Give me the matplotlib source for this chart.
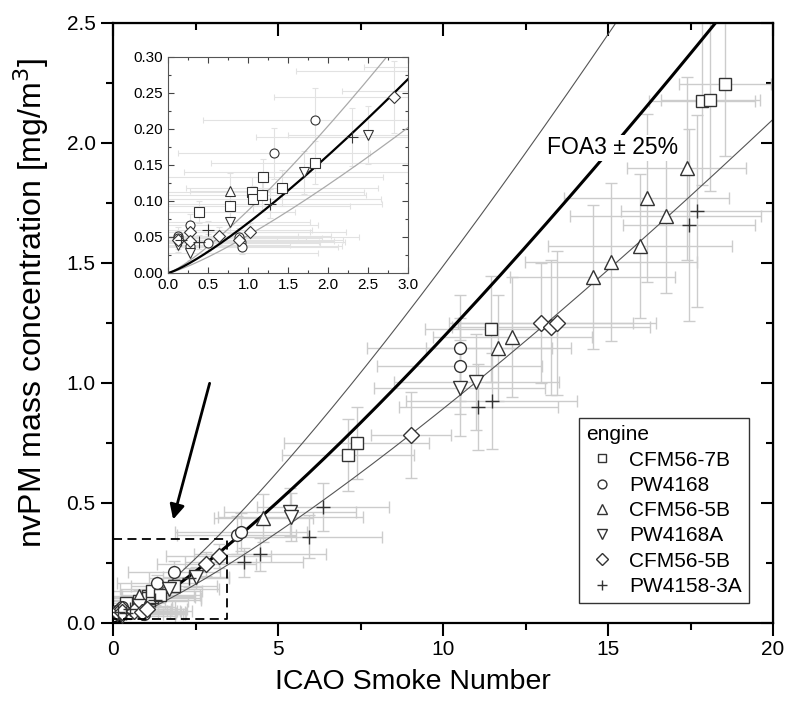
import numpy as np
import matplotlib.pyplot as plt

plt.rcParams['font.family'] = ['Liberation Sans', 'DejaVu Sans']

# FOA3 correlation: C = a * SN^b  (mg/m3)
foa3_a = 0.0694
foa3_b = 1.234

engines = ['CFM56-7B', 'PW4168', 'CFM56-5B', 'PW4168A', 'CFM56-5B', 'PW4158-3A']
markers = ['s', 'o', '^', 'v', 'D', '+']
main_ms = [8.5, 8.5, 9.5, 9.5, 8.5, 10]
inset_ms = [7, 6.5, 7.5, 7.5, 6.5, 8]

sq_x = [0.39, 0.78, 1.05, 1.06, 1.18, 1.19, 1.43, 1.84, 7.12, 7.39, 11.45, 17.84, 18.10, 18.55]
sq_y = [0.085, 0.093, 0.113, 0.103, 0.108, 0.133, 0.118, 0.153, 0.700, 0.750, 1.225, 2.176, 2.180, 2.245]
sq_xe = [1.2, 1.5, 1.4, 1.6, 1.3, 1.5, 1.2, 1.3, 2.0, 2.2, 2.0, 1.6, 1.5, 1.4]
sq_ye = [0.015, 0.02, 0.02, 0.018, 0.02, 0.025, 0.025, 0.03, 0.15, 0.15, 0.22, 0.35, 0.38, 0.3]

ci_x = [0.13, 0.13, 0.27, 0.27, 0.50, 0.89, 0.91, 0.93, 1.32, 1.84, 3.75, 3.87, 10.5, 10.5]
ci_y = [0.052, 0.049, 0.067, 0.038, 0.042, 0.050, 0.043, 0.036, 0.166, 0.212, 0.367, 0.380, 1.070, 1.145]
ci_xe = [1.5, 1.8, 1.6, 1.9, 1.4, 1.5, 1.3, 1.2, 1.2, 1.4, 1.8, 2.0, 2.5, 2.8]
ci_ye = [0.012, 0.01, 0.015, 0.01, 0.012, 0.012, 0.01, 0.01, 0.035, 0.045, 0.08, 0.08, 0.2, 0.22]

tu_x = [0.78, 4.56, 11.68, 12.10, 14.54, 15.09, 15.97, 16.17, 16.75, 17.38]
tu_y = [0.114, 0.436, 1.147, 1.193, 1.443, 1.505, 1.571, 1.770, 1.696, 1.894]
tu_xe = [0.5, 1.5, 2.2, 2.4, 2.5, 2.6, 2.8, 2.5, 2.9, 1.8]
tu_ye = [0.025, 0.1, 0.22, 0.25, 0.3, 0.33, 0.3, 0.35, 0.32, 0.38]

td_x = [0.13, 0.27, 0.78, 1.70, 2.50, 5.36, 5.38, 10.5, 11.0]
td_y = [0.039, 0.028, 0.071, 0.140, 0.192, 0.464, 0.443, 0.978, 1.005]
td_xe = [1.4, 1.6, 1.0, 1.5, 1.0, 2.0, 2.2, 2.6, 2.5]
td_ye = [0.01, 0.01, 0.015, 0.03, 0.04, 0.1, 0.1, 0.2, 0.2]

di_x = [0.13, 0.27, 0.27, 0.64, 0.89, 1.03, 2.83, 3.20, 9.03, 12.97, 13.26, 13.46]
di_y = [0.046, 0.057, 0.045, 0.052, 0.046, 0.057, 0.245, 0.280, 0.783, 1.251, 1.232, 1.248]
di_xe = [1.6, 1.5, 1.8, 1.4, 1.3, 1.2, 1.5, 1.6, 1.2, 2.8, 3.0, 3.0]
di_ye = [0.012, 0.012, 0.01, 0.012, 0.01, 0.012, 0.05, 0.05, 0.18, 0.25, 0.28, 0.3]

pl_x = [0.16, 0.39, 0.50, 1.27, 2.30, 3.97, 4.45, 5.95, 6.35, 11.07, 11.47, 17.46, 17.69]
pl_y = [0.046, 0.043, 0.060, 0.096, 0.189, 0.253, 0.286, 0.360, 0.485, 0.899, 0.926, 1.658, 1.718]
pl_xe = [1.2, 1.5, 1.3, 1.4, 1.2, 1.8, 2.0, 2.2, 2.0, 2.4, 2.6, 2.0, 2.3]
pl_ye = [0.01, 0.01, 0.012, 0.02, 0.04, 0.06, 0.07, 0.09, 0.1, 0.18, 0.2, 0.4, 0.4]

series = [(sq_x, sq_y, sq_xe, sq_ye), (ci_x, ci_y, ci_xe, ci_ye), (tu_x, tu_y, tu_xe, tu_ye),
          (td_x, td_y, td_xe, td_ye), (di_x, di_y, di_xe, di_ye), (pl_x, pl_y, pl_xe, pl_ye)]

fig = plt.figure(figsize=(7.88, 7.04), dpi=100)
ax = fig.add_axes([113/788, 81/704, 660/788, 600/704])

sn = np.linspace(0, 20, 400)
foa3 = foa3_a * sn**foa3_b
ax.plot(sn, foa3 * 1.25, color='#555555', lw=0.8, zorder=2)
ax.plot(sn, foa3 * 0.75, color='#555555', lw=0.8, zorder=2)
ax.plot(sn, foa3, color='black', lw=2.2, zorder=2)

for (x, y, xe, ye), m, ms, name in zip(series, markers, main_ms, engines):
    ax.errorbar(x, y, xerr=xe, yerr=ye, fmt='none', ecolor='#cccccc', elinewidth=1.0,
                capsize=4, capthick=1.0, zorder=1)
    ax.plot(x, y, ls='none', marker=m, ms=ms, mfc='white' if m != '+' else 'none',
            mec='#333333', mew=1.0, zorder=3, label=name)

ax.text(13.15, 1.98, 'FOA3 \u00b1 25%', fontsize=16.5, va='center', ha='left',
        bbox=dict(facecolor='white', edgecolor='none', pad=1), zorder=4)

# zoom box and arrow
ax.plot([0, 3.45, 3.45, 0], [0.35, 0.35, 0.015, 0.015], ls='--', color='black', lw=1.3,
        dashes=(5, 3), zorder=4)
ax.annotate('', xy=(1.8, 0.42), xytext=(2.95, 1.01),
            arrowprops=dict(arrowstyle='-|>', color='black', lw=2, mutation_scale=22))

ax.set_xlim(0, 20)
ax.set_ylim(0, 2.5)
ax.set_xticks([0, 5, 10, 15, 20])
ax.set_xticks([2.5, 7.5, 12.5, 17.5], minor=True)
ax.set_yticks([0, 0.5, 1.0, 1.5, 2.0, 2.5])
ax.set_yticks(np.arange(0.25, 2.5, 0.5), minor=True)
ax.set_yticklabels(['0.0', '0.5', '1.0', '1.5', '2.0', '2.5'])
ax.tick_params(which='major', direction='out', length=9, width=1.5, labelsize=15)
ax.tick_params(which='minor', direction='out', length=5, width=1.5)
for s in ax.spines.values():
    s.set_linewidth(1.6)

top = ax.secondary_xaxis('top')
top.set_xticks([0, 5, 10, 15, 20])
top.set_xticks([2.5, 7.5, 12.5, 17.5], minor=True)
top.tick_params(which='major', direction='in', length=9, width=1.5, labeltop=False)
top.tick_params(which='minor', direction='in', length=5, width=1.5)
right = ax.secondary_yaxis('right')
right.set_yticks([0, 0.5, 1.0, 1.5, 2.0, 2.5])
right.set_yticks(np.arange(0.25, 2.5, 0.5), minor=True)
right.tick_params(which='major', direction='in', length=9, width=1.5, labelright=False)
right.tick_params(which='minor', direction='in', length=5, width=1.5)

ax.set_xlabel('ICAO Smoke Number', fontsize=20.5)
ax.set_ylabel('nvPM mass concentration [mg/m$^3$]', fontsize=23)
ax.xaxis.set_label_coords(0.455, -0.077)
ax.yaxis.set_label_coords(-0.094, 0.533)

leg = ax.legend(loc='lower right', bbox_to_anchor=(0.964, 0.033), title='engine',
                fontsize=15, title_fontsize=15, frameon=True, fancybox=False,
                edgecolor='black', markerscale=0.75, handletextpad=0.55, labelspacing=0.3,
                borderpad=0.35, borderaxespad=0, alignment='left', handlelength=1.5)
leg.get_frame().set_linewidth(1.0)

# inset
ins = fig.add_axes([168/788, (704-273)/704, 240/788, 216/704])
sn2 = np.linspace(0, 3, 200)
foa3b = foa3_a * sn2**foa3_b
ins.plot(sn2, foa3b * 1.25, color='#aaaaaa', lw=0.9, zorder=2)
ins.plot(sn2, foa3b * 0.75, color='#aaaaaa', lw=0.9, zorder=2)
ins.plot(sn2, foa3b, color='black', lw=1.6, zorder=2)
for (x, y, xe, ye), m, ms in zip(series, markers, inset_ms):
    ins.errorbar(x, y, xerr=xe, yerr=ye, fmt='none', ecolor='#e2e2e2', elinewidth=0.8,
                 capsize=2.5, capthick=0.8, zorder=1)
    ins.plot(x, y, ls='none', marker=m, ms=ms, mfc='white' if m != '+' else 'none',
             mec='#333333', mew=0.8, zorder=3)
ins.set_xlim(0, 3)
ins.set_ylim(0, 0.30)
ins.set_xticks(np.arange(0, 3.01, 0.5))
ins.set_xticks(np.arange(0.25, 3, 0.5), minor=True)
ins.set_yticks(np.arange(0, 0.301, 0.05))
ins.set_yticks(np.arange(0.025, 0.3, 0.05), minor=True)
ins.set_xticklabels(['0.0', '0.5', '1.0', '1.5', '2.0', '2.5', '3.0'])
ins.set_yticklabels(['0.00', '0.05', '0.10', '0.15', '0.20', '0.25', '0.30'])
ins.tick_params(which='both', direction='in', top=True, right=True, width=0.8, labelsize=11,
                color='#444444')
ins.tick_params(which='major', length=4)
ins.tick_params(which='minor', length=2)
for s in ins.spines.values():
    s.set_linewidth(0.8)
    s.set_color('#555555')

fig.savefig('out.png', dpi=100)
